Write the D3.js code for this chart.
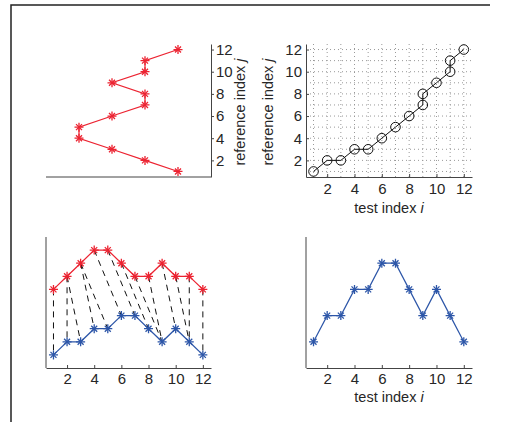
<!DOCTYPE html>
<meta charset="utf-8">
<script src="https://cdn.jsdelivr.net/npm/d3@7"></script>
<style>
body { margin: 0; background: #fff; }
text { font-family: "Liberation Sans", Arial, sans-serif; fill: #262626; }
.axis path, .axis line { stroke: #444; }
</style>
<body>
<script>

// data
var testIdx   = [1, 2, 3, 4, 5, 6, 7, 8, 9, 10, 11, 12];
var refSeries = [1, 2, 3, 4, 4, 3, 2, 2, 3, 2, 2, 1];
var testSeries = [1, 2, 2, 3, 3, 4, 4, 3, 2, 3, 2, 1];
var pathI = [1, 2, 3, 4, 5, 6, 7, 8, 9, 9, 10, 11, 11, 12];
var pathJ = [1, 2, 2, 3, 3, 4, 5, 6, 7, 8, 9, 10, 11, 12];
var tickVals = [2, 4, 6, 8, 10, 12];
var refOffset = 5;

var red = "#ec2331", blue = "#2d56a8";
var tickFont = 15, labFont = 14.5;

var svg = d3.select("body").append("svg")
    .attr("width", 505)
    .attr("height", 422);

// frame
svg.append("path")
    .attr("d", "M11,422V5H490")
    .attr("fill", "none")
    .attr("stroke", "#222")
    .attr("stroke-width", 1.5);

function star(g, pts, col) {
  var s = 4.5;
  var m = g.selectAll(null).data(pts).enter().append("g")
      .attr("transform", function(d) { return "translate(" + d[0] + "," + d[1] + ")"; })
      .attr("stroke", col).attr("stroke-width", 1.3);
  m.append("path").attr("d", "M" + (-s) + ",0H" + s + "M0," + (-s) + "V" + s);
  m.append("path").attr("d", "M-3,-3L3,3M-3,3L3,-3");
}

function label(g, x, y, word, letter, rot) {
  var t = g.append("text")
      .attr("text-anchor", "middle")
      .attr("font-size", labFont)
      .attr("transform", "translate(" + x + "," + y + ")" + (rot ? " rotate(-90)" : ""));
  t.append("tspan").text(word + " index  ");
  t.append("tspan").attr("font-style", "italic").text(letter);
}

// ---- top left: reference, rotated
var tlx = d3.scaleLinear().domain([0, 5]).range([211, 46]);
var tly = d3.scaleLinear().domain([0.5, 12.5]).range([177, 44]);

svg.append("line").attr("x1", 46).attr("x2", 211).attr("y1", 177).attr("y2", 177)
    .attr("stroke", "#444");
var tlAxis = svg.append("g").attr("class", "axis")
    .attr("transform", "translate(211,0)")
    .call(d3.axisRight(tly).tickValues(tickVals).tickSize(3).tickPadding(2).tickSizeOuter(0));
tlAxis.selectAll("text").attr("font-size", tickFont);

var tlLine = d3.line().x(function(d) { return tlx(d[0]); }).y(function(d) { return tly(d[1]); });
var tlPts = refSeries.map(function(v, k) { return [v, testIdx[k]]; });
svg.append("path").datum(tlPts).attr("d", tlLine)
    .attr("fill", "none").attr("stroke", red).attr("stroke-width", 1.2);
star(svg.append("g"), tlPts.map(function(d) { return [tlx(d[0]), tly(d[1])]; }), red);
label(svg, 245, 112, "reference", "j", true);

// ---- top right: warping path
var trx = d3.scaleLinear().domain([0.45, 12.6]).range([306, 472]);
var tr_y = d3.scaleLinear().domain([0.5, 12.5]).range([177, 44]);

var grid = svg.append("g").attr("stroke", "#999").attr("stroke-dasharray", "1,3").attr("stroke-width", 1);
grid.selectAll(".gv").data(testIdx).enter().append("line")
    .attr("x1", function(d) { return trx(d); }).attr("x2", function(d) { return trx(d); })
    .attr("y1", 177).attr("y2", 44);
grid.selectAll(".gh").data(testIdx).enter().append("line")
    .attr("y1", function(d) { return tr_y(d); }).attr("y2", function(d) { return tr_y(d); })
    .attr("x1", 306).attr("x2", 472);

var trX = svg.append("g").attr("class", "axis").attr("transform", "translate(0,177)")
    .call(d3.axisBottom(trx).tickValues(tickVals).tickSize(-3).tickPadding(6).tickSizeOuter(0));
var trY = svg.append("g").attr("class", "axis").attr("transform", "translate(306,0)")
    .call(d3.axisLeft(tr_y).tickValues(tickVals).tickSize(-3).tickPadding(4).tickSizeOuter(0));
trX.selectAll("text").attr("font-size", tickFont);
trY.selectAll("text").attr("font-size", tickFont);

var wp = pathI.map(function(v, k) { return [v, pathJ[k]]; });
svg.append("path").datum(wp)
    .attr("d", d3.line().x(function(d) { return trx(d[0]); }).y(function(d) { return tr_y(d[1]); }))
    .attr("fill", "none").attr("stroke", "#111").attr("stroke-width", 1);
svg.selectAll(".wc").data(wp).enter().append("circle")
    .attr("cx", function(d) { return trx(d[0]); })
    .attr("cy", function(d) { return tr_y(d[1]); })
    .attr("r", 4.8)
    .attr("fill", "none").attr("stroke", "#111").attr("stroke-width", 1);
label(svg, 273, 112, "reference", "j", true);
label(svg, 389, 213, "test", "i", false);

// ---- bottom left: aligned series
var blx = d3.scaleLinear().domain([0.45, 12.6]).range([46, 211]);
var bly = d3.scaleLinear().domain([0, 10]).range([368, 237]);

svg.append("g").selectAll("line").data(wp).enter().append("line")
    .attr("x1", function(d) { return blx(d[1]); })
    .attr("y1", function(d) { return bly(refSeries[d[1] - 1] + refOffset); })
    .attr("x2", function(d) { return blx(d[0]); })
    .attr("y2", function(d) { return bly(testSeries[d[0] - 1]); })
    .attr("stroke", "#111").attr("stroke-width", 1).attr("stroke-dasharray", "6,5");

var blX = svg.append("g").attr("class", "axis").attr("transform", "translate(0,368)")
    .call(d3.axisBottom(blx).tickValues(tickVals).tickSize(-3).tickPadding(5).tickSizeOuter(0));
blX.selectAll("text").attr("font-size", tickFont);
svg.append("line").attr("x1", 46).attr("x2", 46).attr("y1", 237).attr("y2", 368).attr("stroke", "#444");

var blLine = d3.line().x(function(d) { return blx(d[0]); }).y(function(d) { return bly(d[1]); });
var redPts = refSeries.map(function(v, k) { return [testIdx[k], v + refOffset]; });
var bluePts = testSeries.map(function(v, k) { return [testIdx[k], v]; });
svg.append("path").datum(redPts).attr("d", blLine).attr("fill", "none").attr("stroke", red).attr("stroke-width", 1.2);
svg.append("path").datum(bluePts).attr("d", blLine).attr("fill", "none").attr("stroke", blue).attr("stroke-width", 1.2);
star(svg.append("g"), redPts.map(function(d) { return [blx(d[0]), bly(d[1])]; }), red);
star(svg.append("g"), bluePts.map(function(d) { return [blx(d[0]), bly(d[1])]; }), blue);

// ---- bottom right: test series
var brx = d3.scaleLinear().domain([0.45, 12.6]).range([306, 472]);
var bry = d3.scaleLinear().domain([0, 5]).range([368, 237]);

var brX = svg.append("g").attr("class", "axis").attr("transform", "translate(0,368)")
    .call(d3.axisBottom(brx).tickValues(tickVals).tickSize(-3).tickPadding(5).tickSizeOuter(0));
brX.selectAll("text").attr("font-size", tickFont);
svg.append("line").attr("x1", 306).attr("x2", 306).attr("y1", 237).attr("y2", 368).attr("stroke", "#444");

var brLine = d3.line().x(function(d) { return brx(d[0]); }).y(function(d) { return bry(d[1]); });
svg.append("path").datum(bluePts).attr("d", brLine).attr("fill", "none").attr("stroke", blue).attr("stroke-width", 1.2);
star(svg.append("g"), bluePts.map(function(d) { return [brx(d[0]), bry(d[1])]; }), blue);
label(svg, 389, 402, "test", "i", false);

</script>
</body>
</html>
